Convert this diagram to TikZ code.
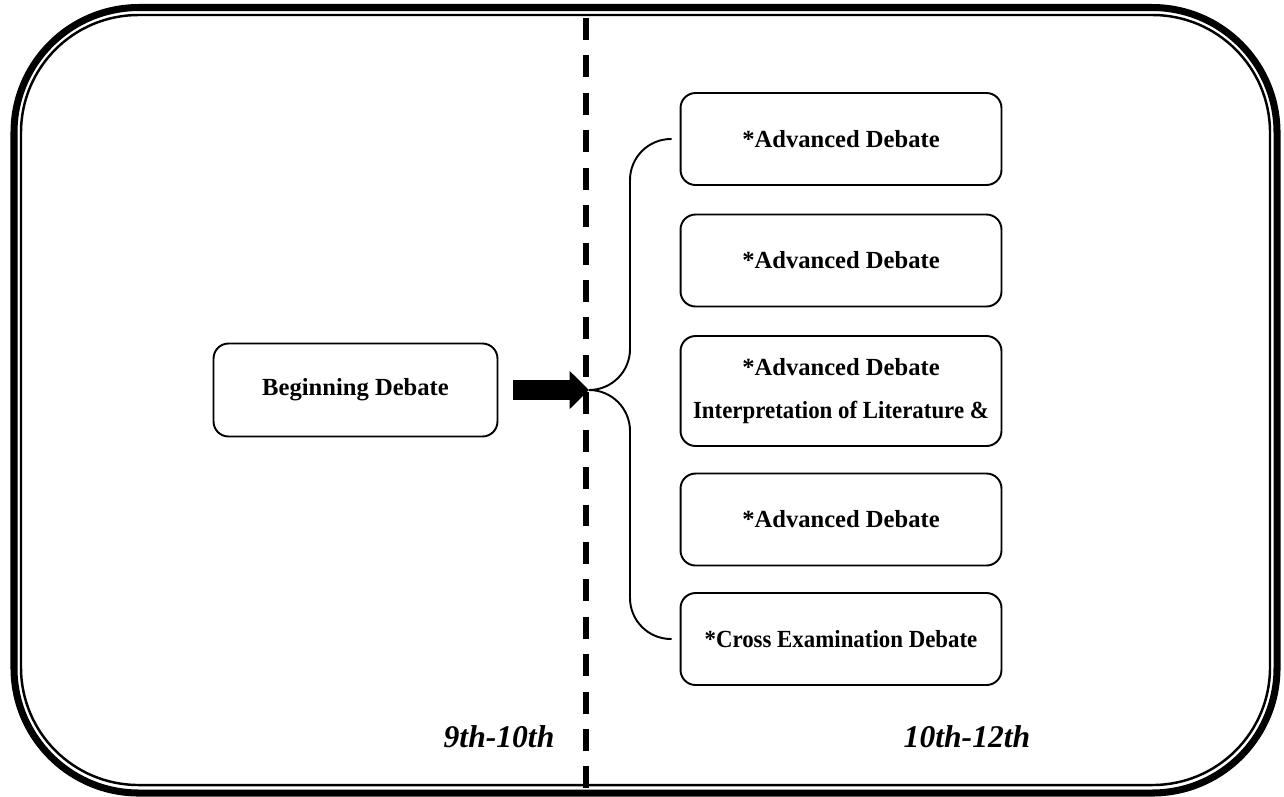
\documentclass[tikz,border=0pt]{standalone}
\usepackage{fontspec}
\setmainfont{Liberation Serif}
\usepackage{graphicx}
\usetikzlibrary{arrows.meta}

\newcommand{\squeeze}[1]{\scalebox{0.93}[1]{#1}}

\begin{document}
\begin{tikzpicture}[x=0.02cm,y=-0.02cm,
		course/.style={draw,line width=1.1pt,rounded corners=0.3cm,minimum width=6.42cm,minimum height=1.84cm,align=center,font=\fontsize{14}{24}\selectfont\bfseries},
		brace/.style={line width=1.1pt,rounded corners=0.82cm,shorten >=4.5pt},
		grade/.style={font=\fontsize{18}{20}\selectfont\bfseries\itshape}]
				\useasboundingbox (0,0) rectangle (1284,796);
				% double frame
				\draw[line width=4pt,rounded corners=2.5cm] (14,7.5) rectangle (1277,793);
				\draw[line width=1.4pt,rounded corners=2.35cm] (21,15) rectangle (1270,785);
				
				\coordinate (top) at (586,18);
				\coordinate (bot) at (586,790);
				\draw[line width=3.4pt,dash pattern=on 12.5pt off 8.8pt] (top) -- (bot);
				
				\node (beg) at (355.5,390) [course,minimum width=5.68cm,minimum height=1.86cm] {Beginning Debate};
				\node (a1) at (841,139) [course] {*Advanced Debate};
				\node (a2) at (841,260.5) [course] {*Advanced Debate};
				\node (a3) at (841,391) [course,minimum height=2.2cm] {*Advanced Debate\\\squeeze{Interpretation of Literature \&}};
				\node (a4) at (841,519.5) [course] {*Advanced Debate};
				\node (a5) at (841,639) [course] {\squeeze{*Cross Examination Debate}};
				
				\coordinate (hub) at (589,390);
				\coordinate (spine) at (630,390);
				\draw[line width=11pt,-{Triangle[length=11pt,width=21pt]},shorten <=8.5pt] (beg.east) -- (hub);
				\draw[brace] (hub) -| (spine |- a1.west) -- (a1.west);
				\draw[brace] (hub) -| (spine |- a5.west) -- (a5.west);
				
				\node (g1) at (499,737) [grade] {9th-10th};
				\node (g2) at (967,737) [grade] {10th-12th};
			\end{tikzpicture}
\end{document}
